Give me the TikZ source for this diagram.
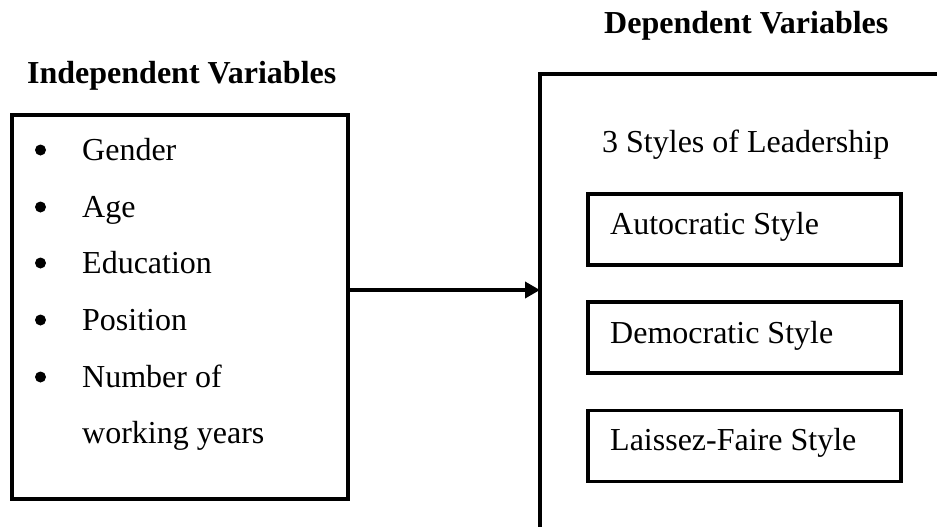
\documentclass[tikz,border=0pt]{standalone}
\usepackage{fontspec}
\setmainfont{Liberation Serif}
\usetikzlibrary{arrows.meta}
\begin{document}
\begin{tikzpicture}[x=1pt,y=-1pt,
  txt/.style={anchor=base west, inner sep=0pt, font=\fontsize{32}{38}\selectfont},
  ttl/.style={anchor=base west, inner sep=0pt, font=\fontsize{32}{38}\selectfont\bfseries},
  frame/.style={draw, line width=3.6pt, rectangle, inner sep=0pt},
  bul/.style={circle, fill=black, inner sep=0pt, minimum size=11pt},
  conn/.style={line width=3.6pt, -{Triangle[length=15pt,width=16pt]}}
]
\useasboundingbox (0,0) rectangle (937,527);
% titles
\node[ttl] (tind) at (27,84) {Independent Variables};
\node[ttl] (tdep) at (604,34) {Dependent Variables};
% left box
\node[frame, minimum width=336pt, minimum height=384pt] (lbox) at (180,307) {};
\foreach \n/\y/\t in {a/160/Gender, b/217/Age, c/273/Education, d/330/Position, e/387/Number of}{
  \node[bul] (b\n) at (40.5,\y-10) {};
  \node[txt] (l\n) at (82,\y) {\t};
}
\node[txt] (lf) at (82,443) {working years};
% right open box
\coordinate (rbot) at (540,527);
\coordinate (rtl) at (540,74);
\coordinate (rtr) at (937,74);
\draw[line width=3.6pt] (rbot) -- (rtl) -- (rtr);
\coordinate (rin) at (540,290);
\node[txt] (styles) at (602,152) {3 Styles of Leadership};
\node[frame, minimum width=313pt, minimum height=71pt] (s1) at (744.5,229.5) {};
\node[frame, minimum width=313pt, minimum height=71pt] (s2) at (744.5,337.5) {};
\node[frame, minimum width=313pt, minimum height=71pt] (s3) at (744.5,446) {};
\node[txt] (s1t) at (610,234) {Autocratic Style};
\node[txt] (s2t) at (610,343) {Democratic Style};
\node[txt] (s3t) at (610,450) {Laissez-Faire Style};
% connector
\draw[conn] (lbox.east |- rin) -- (rin);
\end{tikzpicture}
\end{document}
